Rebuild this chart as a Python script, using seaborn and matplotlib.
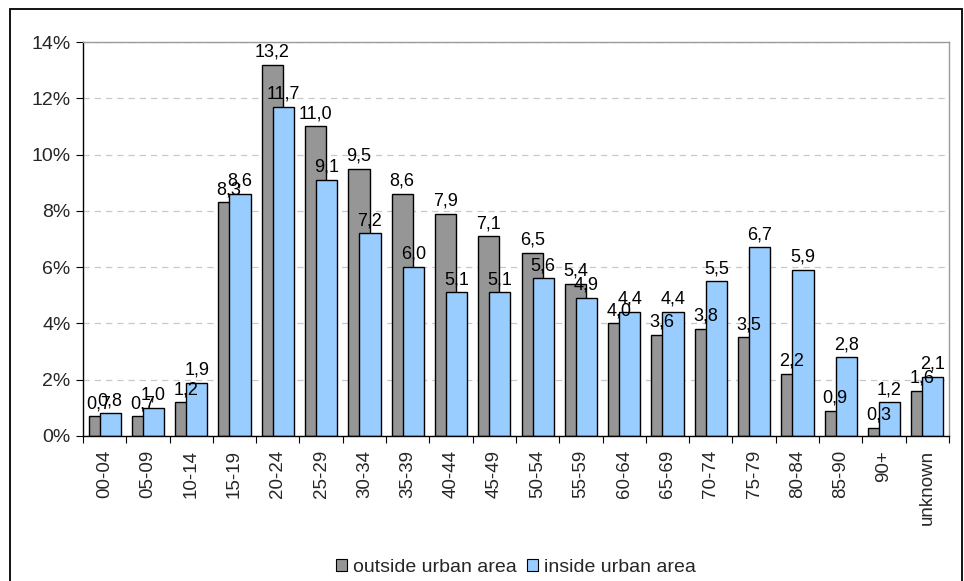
import numpy as np
import matplotlib
matplotlib.use("Agg")
import matplotlib.pyplot as plt
from matplotlib.patches import Patch, Rectangle
from matplotlib.ticker import PercentFormatter, FixedLocator
import seaborn as sns

# Age groups and shares (%)
age_groups = ["00-04", "05-09", "10-14", "15-19", "20-24", "25-29", "30-34",
              "35-39", "40-44", "45-49", "50-54", "55-59", "60-64", "65-69",
              "70-74", "75-79", "80-84", "85-90", "90+", "unknown"]
outside_urban = [0.7, 0.7, 1.2, 8.3, 13.2, 11.0, 9.5, 8.6, 7.9, 7.1,
                 6.5, 5.4, 4.0, 3.6, 3.8, 3.5, 2.2, 0.9, 0.3, 1.6]
inside_urban = [0.8, 1.0, 1.9, 8.6, 11.7, 9.1, 7.2, 6.0, 5.1, 5.1,
                5.6, 4.9, 4.4, 4.4, 5.5, 6.7, 5.9, 2.8, 1.2, 2.1]
series_names = ["outside urban area", "inside urban area"]
colors = ["#969696", "#99CCFF"]

sns.set_theme(style="white")
plt.rcParams["font.family"] = ["Liberation Sans", "DejaVu Sans"]

fig = plt.figure(figsize=(9.64, 5.81), dpi=100)
ax = fig.add_axes([0.0861, 0.2496, 0.9844 - 0.0861, 0.9277 - 0.2496])

pos = np.arange(len(age_groups))
shift = 0.127
bw = 0.49

sns.barplot(x=pos - shift, y=outside_urban, native_scale=True, width=bw,
            color=colors[0], saturation=1, edgecolor="black", linewidth=1,
            errorbar=None, ax=ax)
sns.barplot(x=pos + shift, y=inside_urban, native_scale=True, width=bw,
            color=colors[1], saturation=1, edgecolor="black", linewidth=1,
            errorbar=None, ax=ax)

for cont, vals in zip(ax.containers, [outside_urban, inside_urban]):
    ax.bar_label(cont, labels=[f"{v:.1f}".replace(".", ",") for v in vals],
                 padding=3, fontsize=13, color="black")

ax.set_xlim(-0.5, len(age_groups) - 0.5)
ax.set_ylim(0, 14)
ax.set_yticks(np.arange(0, 15, 2))
ax.yaxis.set_major_formatter(PercentFormatter(decimals=0))
ax.set_xticks(pos)
ax.set_xticklabels(age_groups, rotation=90, fontsize=13.5)
ax.xaxis.set_minor_locator(FixedLocator(np.arange(-0.5, len(age_groups), 1)))
ax.tick_params(axis="x", which="major", length=0, pad=10)
ax.tick_params(axis="x", which="minor", length=5, width=0.8, color="black",
               direction="out", bottom=True)
ax.tick_params(axis="y", length=5, width=0.8, color="black", direction="out",
               left=True, labelsize=14, pad=4)
ax.set_xlabel("")
ax.set_ylabel("")

ax.yaxis.grid(True, linestyle=(0, (5, 4)), color="#c8c8c8", linewidth=0.9)
ax.set_axisbelow(True)

for side in ["left", "bottom"]:
    ax.spines[side].set_color("black")
    ax.spines[side].set_linewidth(1)
for side in ["top", "right"]:
    ax.spines[side].set_color("#9a9a9a")
    ax.spines[side].set_linewidth(1)

handles = [Patch(facecolor=c, edgecolor="black", linewidth=0.8) for c in colors]
ax.legend(handles, series_names, loc="center", bbox_to_anchor=(0.5, -0.333),
          ncol=2, frameon=False, fontsize=14, handlelength=0.6,
          handleheight=0.6, handletextpad=0.3, columnspacing=0.5)

fig.patches.append(Rectangle((10 / 964, -0.05), (962 - 10) / 964, 0.05 + 1 - 9 / 581,
                             transform=fig.transFigure, fill=False,
                             edgecolor="black", linewidth=1.3))

fig.savefig("out.png", dpi=100, facecolor="white")
